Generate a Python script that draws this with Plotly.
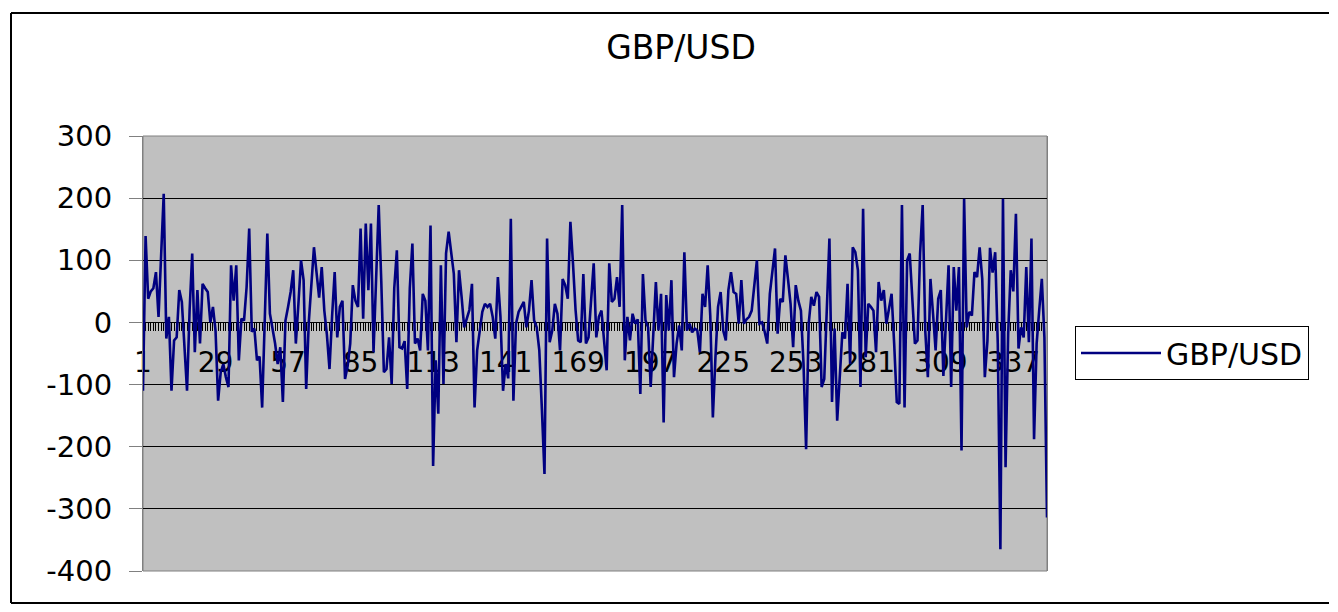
import plotly.graph_objects as go

# ---- data ----
series_name = "GBP/USD"
periods = list(range(1, 351))
gbp_usd = [
    -110, 139, 38, 50, 55, 81, 9, 105, 207, -26,
    9, -110, -29, -24, 52, 33, -50, -110, 20, 111,
    -48, 52, -34, 62, 55, 49, 0, 25, -13, -126,
    -80, -67, -88, -104, 92, 35, 92, -61, 6, 3,
    57, 151, -15, -10, -61, -55, -137, 0, 143, 14,
    -10, -34, -67, -40, -128, 3, 25, 49, 84, -34,
    30, 100, 68, -107, 0, 60, 121, 80, 40, 89,
    19, -20, -75, 10, 81, -24, 25, 35, -91, -70,
    -34, 60, 35, 25, 151, 6, 159, 52, 159, -48,
    60, 189, 65, -80, -75, -24, -99, 55, 116, -40,
    -42, -30, -107, 55, 127, -34, -26, -45, 46, 35,
    -45, 156, -231, -61, -147, 92, -99, 111, 146, 110,
    78, -32, 84, 41, -8, 6, 20, 62, -137, -45,
    -10, 17, 30, 25, 30, 9, -26, 73, 9, -110,
    -67, -90, 167, -126, -2, 17, 25, 33, -8, 19,
    68, 3, -8, -45, -140, -244, 135, -32, -13, 30,
    14, -45, 70, 60, 38, 162, 95, 20, -29, -32,
    78, -34, -24, 40, 95, -24, 9, 19, -34, -77,
    95, 33, 38, 73, 25, 189, -61, 9, -29, 14,
    -2, 5, -115, 78, 3, -8, -104, -8, 65, -13,
    46, -161, 44, -13, 68, -88, -34, -5, -45, 113,
    -13, -2, -16, -10, -13, -48, 46, 25, 92, 11,
    -153, -56, 25, 49, -13, -29, 52, 81, 49, 46,
    -2, 68, -2, 5, 9, 19, 60, 100, -2, 0,
    -15, -34, 46, 80, 119, -18, 38, 33, 108, 70,
    30, -40, 60, 35, 19, -67, -204, -2, 41, 27,
    49, 41, -104, -91, 20, 135, -128, -10, -158, -77,
    -16, -26, 62, -67, 121, 113, 84, -104, 183, -56,
    30, 25, 19, -48, 65, 35, 52, -2, 20, 46,
    -34, -128, -131, 189, -137, 100, 111, 41, -34, -29,
    111, 189, -13, -88, 70, 14, -45, 38, 52, -86,
    9, 92, -104, 89, 19, 89, -206, 199, -8, 17,
    11, 81, 73, 121, 70, -88, -30, 120, 80, 113,
    -35, -365, 199, -233, -18, 84, 50, 175, -42, -8,
    -24, 89, -32, 135, -188, -34, 20, 70, -24, -314,
]
x_tick_values = [1, 29, 57, 85, 113, 141, 169, 197, 225, 253, 281, 309, 337]
x_tick_labels = ["1", "29", "57", "85", "113", "141", "169", "197", "225",
                 "253", "281", "309", "337"]
y_tick_values = [-400, -300, -200, -100, 0, 100, 200, 300]
y_tick_labels = ["-400", "-300", "-200", "-100", "0", "100", "200", "300"]

# ---- layout geometry (page pixels; the page body adds an 8px margin) ----
OFF = 8
W, H = 1338 - 2 * OFF, 612 - 2 * OFF
L, R, T, B = 143, 1047, 136, 571          # plot area in page pixels
pw, ph = R - L, B - T


def px_x(p):
    return (p - L) / pw


def px_y(p):
    return (B - p) / ph


FONT = "DejaVu Sans"
border = dict(color="black", width=2)
frame_right = W + OFF - 1                  # last page pixel of the figure

fig = go.Figure()
fig.add_trace(go.Scatter(
    x=periods, y=gbp_usd, mode="lines", name=series_name,
    line=dict(color="#000080", width=2.6),
))

fig.update_layout(
    width=W, height=H,
    margin=dict(l=L - OFF, r=W - (R - OFF), t=T - OFF, b=H - (B - OFF), pad=0),
    paper_bgcolor="white",
    plot_bgcolor="#C0C0C0",
    font=dict(family=FONT, color="black", size=28),
    title=dict(text="GBP/USD", font=dict(family=FONT, size=33, color="black"),
               xref="container", yref="container",
               x=(681 - OFF) / W, xanchor="center",
               y=1 - (47 - OFF) / H, yanchor="middle"),
    showlegend=True,
    legend=dict(x=px_x(1075), xanchor="left", y=px_y(353), yanchor="middle",
                bgcolor="white", bordercolor="black", borderwidth=1,
                font=dict(family=FONT, size=30, color="black"),
                itemwidth=80),
    xaxis=dict(
        range=[1, 350], anchor="free", position=400 / 700,
        showline=True, linecolor="black", linewidth=1,
        showgrid=False, zeroline=False,
        tickmode="array", tickvals=x_tick_values, ticktext=x_tick_labels,
        ticks="outside", ticklen=8, tickcolor="black", tickwidth=1,
        minor=dict(dtick=1, tick0=1, ticks="outside", ticklen=8,
                   tickcolor="black", tickwidth=1, showgrid=False),
        tickfont=dict(family=FONT, size=28, color="black"),
        ticklabelstandoff=7,
        layer="below traces",
    ),
    yaxis=dict(
        range=[-400, 300], tickmode="array", tickvals=y_tick_values,
        ticktext=y_tick_labels,
        showgrid=True, gridcolor="black", gridwidth=1,
        zeroline=False, showline=True, linecolor="#808080", linewidth=1,
        mirror=True,
        ticks="outside", ticklen=13, tickcolor="#808080",
        tickfont=dict(family=FONT, size=29, color="black"),
        ticklabelstandoff=11,
    ),
    shapes=[
        dict(type="rect", xref="paper", yref="paper", x0=0, x1=1, y0=0, y1=1,
             line=dict(color="#808080", width=1), layer="below"),
        # outer chart-area frame (its right side lies outside the picture)
        dict(type="line", xref="paper", yref="paper",
             x0=px_x(11), x1=px_x(11), y0=px_y(603), y1=px_y(13),
             line=border, layer="below"),
        dict(type="line", xref="paper", yref="paper",
             x0=px_x(11), x1=px_x(frame_right), y0=px_y(13), y1=px_y(13),
             line=border, layer="below"),
        dict(type="line", xref="paper", yref="paper",
             x0=px_x(11), x1=px_x(frame_right), y0=px_y(603), y1=px_y(603),
             line=border, layer="below"),
    ],
)

fig.write_html("out.html")
